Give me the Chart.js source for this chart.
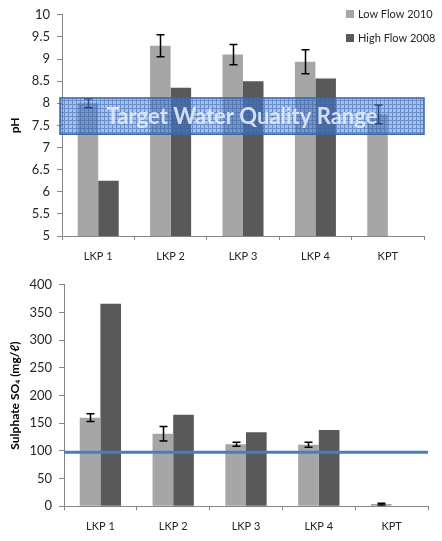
<!DOCTYPE html>
<html>
<head>
<meta charset="utf-8">
<script src="https://cdn.jsdelivr.net/npm/chart.js@4.4.1/dist/chart.umd.min.js"></script>
<style>
  html, body { margin: 0; padding: 0; background: #fff; }
  #wrap { position: relative; width: 442px; height: 541px; }
  canvas { position: absolute; left: 0; }
  #ph { top: 0; }
  #so4 { top: 270px; }
</style>
</head>
<body>
<div id="wrap">
  <canvas id="ph" width="442" height="270"></canvas>
  <canvas id="so4" width="442" height="271"></canvas>
</div>
<script>
// Sampling sites
const categories = ['LKP 1', 'LKP 2', 'LKP 3', 'LKP 4', 'KPT'];
const seriesNames = ['Low Flow 2010', 'High Flow 2008'];

// pH
const phLow = [8.0, 9.3, 9.1, 8.94, 7.75];
const phLowErr = [0.1, 0.25, 0.23, 0.27, 0.21];
const phHigh = [6.25, 8.35, 8.5, 8.56, null];
const phTarget = [7.3, 8.12];           // target water quality range (low, high)
const phTicks = { min: 5, max: 10, step: 0.5 };

// Sulphate SO4 (mg/l)
const so4Low = [160, 131, 112, 111, 4];
const so4LowErr = [7, 13, 3.5, 4.5, 1.5];
const so4High = [366, 165.5, 133.5, 138, null];
const so4Limit = 97.5;                  // guideline line
const so4Ticks = { min: 0, max: 400, step: 50 };

const FONT = 'Lato, "Liberation Sans", sans-serif';
const AXIS = '#868686';
const TEXT = '#262626';
const LIGHT = '#a6a6a6';
const DARK = '#595959';

Chart.defaults.font.family = FONT;
Chart.defaults.color = TEXT;

function errorBars(ctx, chart, errs) {
  const meta = chart.getDatasetMeta(0);
  const y = chart.scales.y;
  const vals = chart.data.datasets[0].data;
  ctx.save();
  ctx.strokeStyle = '#000';
  ctx.lineWidth = 1.5;
  meta.data.forEach((el, i) => {
    if (vals[i] == null) return;
    const x = Math.round(el.x) + 0.5;
    const top = y.getPixelForValue(vals[i] + errs[i]);
    const bot = y.getPixelForValue(vals[i] - errs[i]);
    ctx.beginPath();
    ctx.moveTo(x, top); ctx.lineTo(x, bot);
    ctx.moveTo(x - 4, top); ctx.lineTo(x + 4, top);
    ctx.moveTo(x - 4, bot); ctx.lineTo(x + 4, bot);
    ctx.stroke();
  });
  ctx.restore();
}

function gridPattern(ctx) {
  const c = document.createElement('canvas');
  c.width = 4; c.height = 4;
  const p = c.getContext('2d');
  p.fillStyle = 'rgba(79,129,200,0.5)';
  p.fillRect(0, 0, 4, 4);
  p.fillStyle = 'rgba(45,95,185,0.5)';
  p.fillRect(0, 0, 4, 1);
  p.fillRect(0, 1, 1, 3);
  return ctx.createPattern(c, 'repeat');
}

function baseOptions(ticks, yWidth, xHeight, padding, titleText) {
  return {
    responsive: false,
    animation: false,
    devicePixelRatio: 1,
    layout: { padding },
    plugins: { legend: { display: false }, tooltip: { enabled: false } },
    scales: {
      x: {
        grid: { display: true, drawOnChartArea: false, offset: true, color: AXIS, tickLength: 4 },
        border: { color: AXIS, width: 1 },
        ticks: { font: { size: 11 }, padding: 10, color: TEXT, maxRotation: 0 },
        afterFit: s => { s.height = xHeight; }
      },
      y: {
        min: ticks.min, max: ticks.max,
        grid: { display: true, drawOnChartArea: false, color: AXIS, tickLength: 5 },
        border: { color: AXIS, width: 1 },
        ticks: { stepSize: ticks.step, font: { size: 13 }, padding: 7, color: TEXT,
                 callback: v => String(Number(v.toFixed(2))) },
        title: { display: true, text: titleText, font: { size: 12, weight: 'bold' }, color: '#000', padding: { top: 8, bottom: 0 } },
        afterFit: s => { s.width = yWidth; }
      }
    }
  };
}

function datasets(low, high) {
  return [
    { label: seriesNames[0], data: low, backgroundColor: LIGHT, barPercentage: 1, categoryPercentage: 0.567 },
    { label: seriesNames[1], data: high, backgroundColor: DARK, barPercentage: 1, categoryPercentage: 0.567 }
  ];
}

// ---- pH chart ----
new Chart(document.getElementById('ph'), {
  type: 'bar',
  data: { labels: categories, datasets: datasets(phLow, phHigh) },
  options: baseOptions(phTicks, 62, 34, { left: 0, right: 18, top: 12, bottom: 0 }, 'pH'),
  plugins: [{
    id: 'phOverlay',
    afterDatasetsDraw(chart) {
      const ctx = chart.ctx;
      errorBars(ctx, chart, phLowErr);
      const y = chart.scales.y;
      const a = chart.chartArea;
      const top = y.getPixelForValue(phTarget[1]);
      const bot = y.getPixelForValue(phTarget[0]);
      const left = a.left - 2;
      ctx.save();
      ctx.fillStyle = gridPattern(ctx);
      ctx.fillRect(left, top, a.right - left, bot - top);
      ctx.strokeStyle = '#3a66a8';
      ctx.lineWidth = 1.5;
      ctx.strokeRect(left, top, a.right - left, bot - top);
      ctx.fillStyle = 'rgba(228,238,250,0.88)';
      ctx.font = 'bold 22px ' + FONT;
      ctx.textAlign = 'center';
      ctx.textBaseline = 'middle';
      ctx.fillText('Target Water Quality Range', (a.left + a.right) / 2 - 1, (top + bot) / 2 + 1);
      ctx.restore();
    },
    afterDraw(chart) {
      const ctx = chart.ctx;
      ctx.save();
      ctx.font = '11px ' + FONT;
      ctx.textBaseline = 'middle';
      [LIGHT, DARK].forEach((c, i) => {
        const cy = 14 + i * 24;
        ctx.fillStyle = c;
        ctx.fillRect(346, cy - 4, 8, 8);
        ctx.fillStyle = TEXT;
        ctx.fillText(seriesNames[i], 358, cy);
      });
      ctx.restore();
    }
  }]
});

// ---- Sulphate chart ----
new Chart(document.getElementById('so4'), {
  type: 'bar',
  data: { labels: categories, datasets: datasets(so4Low, so4High) },
  options: baseOptions(so4Ticks, 64, 34.7, { left: 0, right: 14, top: 6.7, bottom: 0 }, 'Sulphate SO\u2084 (mg/\u2113)'),
  plugins: [{
    id: 'so4Overlay',
    afterDatasetsDraw(chart) {
      const ctx = chart.ctx;
      errorBars(ctx, chart, so4LowErr);
      const y = chart.scales.y.getPixelForValue(so4Limit);
      const a = chart.chartArea;
      ctx.save();
      ctx.strokeStyle = '#4a7ebb';
      ctx.lineWidth = 3;
      ctx.beginPath();
      ctx.moveTo(a.left, y);
      ctx.lineTo(a.right, y);
      ctx.stroke();
      ctx.restore();
    }
  }]
});
</script>
</body>
</html>
